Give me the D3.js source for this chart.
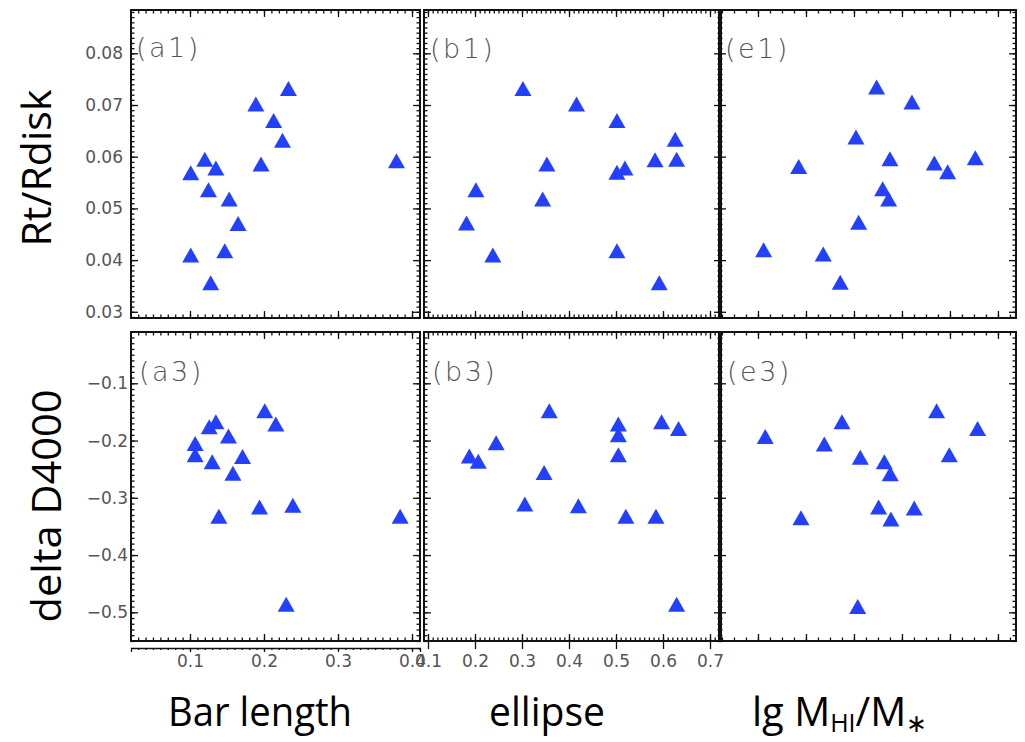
<!DOCTYPE html>
<html>
<head>
<meta charset="utf-8">
<script src="https://cdn.jsdelivr.net/npm/d3@7"></script>
<style>
  body { margin: 0; background: #fff; }
  svg { display: block; }
</style>
</head>
<body>
<svg id="chart" width="1025" height="742"></svg>
<script>
// ---- data: one array per panel and axis ----
// top row: Rt/Rdisk, bottom row: delta D4000
const barLenTop  = [0.233, 0.189, 0.213, 0.225, 0.196, 0.379, 0.120, 0.101, 0.135, 0.125, 0.153, 0.165, 0.101, 0.147, 0.128];
const rtDiskBar  = [0.0732, 0.0702, 0.0670, 0.0632, 0.0586, 0.0592, 0.0595, 0.0569, 0.0578, 0.0536, 0.0518, 0.0471, 0.0410, 0.0418, 0.0356];

const barLenBot  = [0.201, 0.216, 0.126, 0.135, 0.152, 0.107, 0.107, 0.130, 0.171, 0.158, 0.139, 0.194, 0.239, 0.384, 0.230];
const d4000Bar   = [-0.148, -0.171, -0.176, -0.167, -0.192, -0.205, -0.225, -0.237, -0.228, -0.257, -0.332, -0.316, -0.313, -0.332, -0.486];

const ellipseTop = [0.302, 0.416, 0.502, 0.626, 0.353, 0.502, 0.519, 0.583, 0.629, 0.202, 0.182, 0.238, 0.344, 0.502, 0.592];
const rtDiskEll  = [0.0732, 0.0702, 0.0670, 0.0634, 0.0586, 0.0570, 0.0578, 0.0594, 0.0595, 0.0536, 0.0472, 0.0410, 0.0518, 0.0418, 0.0356];

const ellipseBot = [0.358, 0.505, 0.505, 0.505, 0.597, 0.633, 0.188, 0.207, 0.245, 0.347, 0.306, 0.420, 0.521, 0.585, 0.629];
const d4000Ell   = [-0.148, -0.171, -0.190, -0.225, -0.167, -0.179, -0.227, -0.236, -0.204, -0.256, -0.311, -0.314, -0.332, -0.332, -0.486];

const lgHITop    = [0.236, 0.604, 0.021, -0.576, 0.375, 0.837, 0.976, 1.264, 0.299, 0.361, 0.049, -0.941, -0.320, -0.143];
const rtDiskHI   = [0.0735, 0.0706, 0.0638, 0.0581, 0.0596, 0.0588, 0.0571, 0.0598, 0.0538, 0.0518, 0.0473, 0.0420, 0.0412, 0.0357];

const lgHIBot    = [-0.924, -0.125, -0.309, 0.066, 0.316, 0.378, 0.861, 1.288, 0.993, -0.552, 0.257, 0.385, 0.628, 0.039];
const d4000HI    = [-0.193, -0.167, -0.206, -0.229, -0.237, -0.258, -0.148, -0.179, -0.225, -0.335, -0.316, -0.337, -0.318, -0.490];

// tick labels
const rtTicks      = [0.03, 0.04, 0.05, 0.06, 0.07, 0.08];
const d4000Ticks   = [-0.5, -0.4, -0.3, -0.2, -0.1];
const barTicks     = [0.1, 0.2, 0.3, 0.4];
const ellipseTicks = [0.1, 0.2, 0.3, 0.4, 0.5, 0.6, 0.7];
const lgTicks      = [-1, -0.5, 0, 0.5, 1, 1.5];

const panelNames = ["(a1)", "(b1)", "(e1)", "(a3)", "(b3)", "(e3)"];

// ---- scales ----
const xBar = d3.scaleLinear().domain([0.0203, 0.4108]).range([131, 420]);
const xEll = d3.scaleLinear().domain([0.0915, 0.7234]).range([424, 721]);
const xHI  = d3.scaleLinear().domain([-1.406, 1.688]).range([719, 1016]);
const yRt  = d3.scaleLinear().domain([0.0288, 0.08838]).range([318, 10]);
const yD4  = d3.scaleLinear().domain([-0.5501, -0.0104]).range([641, 332]);

const minor = (a, b, step) => d3.range(Math.ceil(a / step), Math.floor(b / step) + 1).map(i => +(i * step).toFixed(6));

const xSpec = [
  { s: xBar, major: barTicks,     minor: minor(0.0203, 0.4108, 0.01) },
  { s: xEll, major: ellipseTicks, minor: minor(0.0915, 0.7234, 0.01) },
  { s: xHI,  major: lgTicks,      minor: minor(-1.406, 1.688, 0.125) }
];
const ySpec = [
  { s: yRt, major: rtTicks,    minor: minor(0.0288, 0.08838, 0.001) },
  { s: yD4, major: d4000Ticks, minor: minor(-0.5501, -0.0104, 0.01) }
];

const panels = [
  { c: 0, r: 0, xs: barLenTop,  ys: rtDiskBar, name: panelNames[0], lx: 136, ly: 57 },
  { c: 1, r: 0, xs: ellipseTop, ys: rtDiskEll, name: panelNames[1], lx: 430, ly: 58 },
  { c: 2, r: 0, xs: lgHITop,    ys: rtDiskHI,  name: panelNames[2], lx: 725, ly: 58 },
  { c: 0, r: 1, xs: barLenBot,  ys: d4000Bar,  name: panelNames[3], lx: 139, ly: 381 },
  { c: 1, r: 1, xs: ellipseBot, ys: d4000Ell,  name: panelNames[4], lx: 432, ly: 381 },
  { c: 2, r: 1, xs: lgHIBot,    ys: d4000HI,   name: panelNames[5], lx: 727, ly: 381 }
];

const svg = d3.select("#chart");
svg.append("rect").attr("width", 1025).attr("height", 742).attr("fill", "#fff");

// filled triangle marker, centred on its bounding box
const triangle = {
  draw(ctx, size) {
    const w = Math.sqrt(size * 17 / 15), h = w * 15 / 17;
    ctx.moveTo(0, -h / 2);
    ctx.lineTo(w / 2, h / 2);
    ctx.lineTo(-w / 2, h / 2);
    ctx.closePath();
  }
};
const marker = d3.symbol().type(triangle).size(17 * 15);

function tickRow(g, axisFn, scale, vals, len, tx, ty) {
  g.append("g")
    .attr("transform", `translate(${tx},${ty})`)
    .call(axisFn(scale).tickValues(vals).tickSize(len).tickFormat(""))
    .call(s => s.select(".domain").remove())
    .call(s => s.selectAll("line").attr("stroke", "#111").attr("stroke-width", 1.3));
}

panels.forEach(p => {
  const X = xSpec[p.c], Y = ySpec[p.r];
  const [x0, x1] = X.s.range();
  const [y0, y1] = Y.s.range();
  const g = svg.append("g");

  // inward ticks on all four sides
  [[X.minor, 3.5], [X.major, 7]].forEach(([v, L]) => {
    tickRow(g, d3.axisBottom, X.s, v, -L, 0, y0);
    tickRow(g, d3.axisTop, X.s, v, -L, 0, y1);
  });
  [[Y.minor, 3.5], [Y.major, 7]].forEach(([v, L]) => {
    tickRow(g, d3.axisLeft, Y.s, v, -L, x0, 0);
    tickRow(g, d3.axisRight, Y.s, v, -L, x1, 0);
  });

  // points
  g.append("g").selectAll("path")
    .data(d3.zip(p.xs, p.ys))
    .join("path")
    .attr("d", marker)
    .attr("transform", d => `translate(${X.s(d[0])},${Y.s(d[1])})`)
    .attr("fill", "#2340ff");

  // frame
  g.append("rect")
    .attr("x", x0).attr("y", y1)
    .attr("width", x1 - x0).attr("height", y0 - y1)
    .attr("fill", "none").attr("stroke", "#111").attr("stroke-width", 2);

  // panel tag
  g.append("text")
    .attr("x", p.lx).attr("y", p.ly)
    .attr("font-family", "DejaVu Sans").attr("font-size", 27)
    .attr("font-weight", 300)
    .attr("letter-spacing", 2.5)
    .attr("fill", "#555")
    .text(p.name);
});

// ---- tick labels ----
function styleLabels(s) {
  s.select(".domain").remove();
  s.selectAll("text")
    .attr("font-family", "DejaVu Sans").attr("font-size", 17)
    .attr("fill", "#555");
}

svg.append("g").attr("transform", "translate(131,0)")
  .call(d3.axisLeft(yRt).tickValues(rtTicks).tickSize(0).tickPadding(8).tickFormat(d3.format(".2f")))
  .call(styleLabels);

svg.append("g").attr("transform", "translate(131,0)")
  .call(d3.axisLeft(yD4).tickValues(d4000Ticks).tickSize(0).tickPadding(3).tickFormat(d3.format(".1f")))
  .call(styleLabels);

// bar length strip below column a
const barStrip = svg.append("g").attr("transform", "translate(0,648)");
barStrip.call(d3.axisBottom(xBar).tickValues(xSpec[0].minor).tickSize(2).tickSizeOuter(4).tickFormat(""))
  .call(s => s.selectAll("path,line").attr("stroke", "#111").attr("stroke-width", 1.3));
barStrip.append("g")
  .call(d3.axisBottom(xBar).tickValues(barTicks).tickSize(4).tickPadding(3).tickFormat(d3.format(".1f")))
  .call(styleLabels)
  .call(s => s.selectAll("line").attr("stroke", "#111").attr("stroke-width", 1.3));

// ellipse labels under column b
svg.append("g").attr("transform", "translate(0,641)")
  .call(d3.axisBottom(xEll).tickValues(ellipseTicks).tickSize(8).tickPadding(6).tickFormat(d3.format(".1f")))
  .call(styleLabels)
  .call(s => s.selectAll("line").attr("stroke", "#111").attr("stroke-width", 1.3));

// ---- axis titles ----
const titleFont = "Open Sans";
svg.append("text")
  .attr("transform", "translate(51,168) rotate(-90)")
  .attr("text-anchor", "middle")
  .attr("font-family", titleFont).attr("font-size", 40)
  .attr("textLength", 157).attr("lengthAdjust", "spacingAndGlyphs")
  .text("Rt/Rdisk");

svg.append("text")
  .attr("transform", "translate(61,506) rotate(-90)")
  .attr("text-anchor", "middle")
  .attr("font-family", titleFont).attr("font-size", 40)
  .attr("textLength", 233).attr("lengthAdjust", "spacingAndGlyphs")
  .text("delta D4000");

svg.append("text")
  .attr("x", 260).attr("y", 726)
  .attr("text-anchor", "middle")
  .attr("font-family", titleFont).attr("font-size", 40)
  .attr("textLength", 184).attr("lengthAdjust", "spacingAndGlyphs")
  .text("Bar length");

svg.append("text")
  .attr("x", 547).attr("y", 726)
  .attr("text-anchor", "middle")
  .attr("font-family", titleFont).attr("font-size", 40)
  .attr("textLength", 116).attr("lengthAdjust", "spacingAndGlyphs")
  .text("ellipse");

const lg = svg.append("text")
  .attr("x", 752).attr("y", 726)
  .attr("font-family", titleFont).attr("font-size", 40);
lg.append("tspan").text("lg M");
lg.append("tspan").attr("font-size", 25).attr("dy", 6).text("HI");
lg.append("tspan").attr("dy", -6).text("/M");
lg.append("tspan").attr("font-size", 25).attr("dy", 6).text("∗");
</script>
</body>
</html>
